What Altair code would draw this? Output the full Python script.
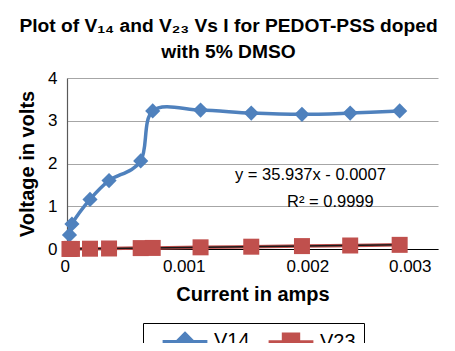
import altair as alt
import pandas as pd

current = [0.00002, 0.00004, 0.000186, 0.00034, 0.000596, 0.000693,
           0.00108, 0.00149, 0.0019, 0.00229, 0.00269]
v14 = [0.33, 0.585, 1.16, 1.60, 2.06, 3.23, 3.25, 3.18, 3.15, 3.18, 3.23]
v23 = [0.001, 0.002, 0.007, 0.012, 0.021, 0.025, 0.039, 0.054, 0.068, 0.082, 0.097]
series_names = ["V14", "V23"]
series_colors = ["#4F81BD", "#C0504D"]
x_ticks = [0, 0.001, 0.002, 0.003]
y_ticks = [0, 1, 2, 3, 4]
title_lines = ["Plot of V\u2081\u2084 and V\u2082\u2083 Vs I for PEDOT-PSS doped", "with 5% DMSO"]
eq_text = "y = 35.937x - 0.0007"
r2_text = "R\u00b2 = 0.9999"

rows = []
for i, c in enumerate(current):
    rows.append({"I": c, "V": v14[i], "series": "V14"})
    rows.append({"I": c, "V": v23[i], "series": "V23"})
df = pd.DataFrame(rows)
df23 = pd.DataFrame({"I": current, "V": v23})

FONT = "Liberation Sans"
legend_paths = ["M-3.2,0H3.2M0,-1.15L1.15,0L0,1.15L-1.15,0Z",
                "M-3.2,0H3.2M-1.1,-1.1H1.1V1.1H-1.1Z"]

xenc = alt.X("I:Q", scale=alt.Scale(domain=[0, 0.003], nice=False),
             axis=alt.Axis(values=x_ticks, title="Current in amps", grid=False,
                           labelExpr="datum.value == 0 ? '0' : format(datum.value, '.3f')",
                           domainColor="#000000", domainWidth=1.2, ticks=False,
                           labelOffset=-7, labelPadding=9, titlePadding=10))
yenc = alt.Y("V:Q", scale=alt.Scale(domain=[0, 4], nice=False),
             axis=alt.Axis(values=y_ticks, title="Voltage in volts", grid=True,
                           gridColor="#A6A6A6", gridWidth=1.2,
                           domainColor="#595959", domainWidth=1.2, ticks=False,
                           labelPadding=10, titlePadding=10))
cscale = alt.Scale(domain=series_names, range=series_colors)
leg = dict(title=None, orient="none", legendX=76, legendY=245, direction="horizontal")

lines = alt.Chart(df).mark_line(strokeWidth=3.5, interpolate="cardinal", tension=0.0).encode(
    x=xenc, y=yenc, color=alt.Color("series:N", scale=cscale, legend=None))
points = alt.Chart(df).mark_point(filled=True, opacity=1).encode(
    x="I:Q", y="V:Q",
    color=alt.Color("series:N", scale=cscale, legend=None),
    shape=alt.Shape("series:N", scale=alt.Scale(domain=series_names, range=["diamond", "square"]), legend=None),
    size=alt.Size("series:N", scale=alt.Scale(domain=series_names, range=[230, 256]), legend=None))
legend_layer = alt.Chart(df).transform_filter("false").mark_point(filled=True, opacity=1).encode(
    x="I:Q", y="V:Q",
    color=alt.Color("series:N", scale=cscale, legend=alt.Legend(
        **leg, strokeColor="#000000", padding=8,
        symbolSize=196, symbolStrokeWidth=3, symbolOpacity=1, symbolOffset=24,
        labelFontSize=20, labelFont=FONT, labelColor="#000000",
        labelOffset=19, columnPadding=7)),
    stroke=alt.Stroke("series:N", scale=cscale, legend=alt.Legend(**leg)),
    shape=alt.Shape("series:N", scale=alt.Scale(domain=series_names, range=legend_paths),
                    legend=alt.Legend(**leg)))
trend = alt.Chart(df23).transform_regression("I", "V").mark_line(color="#1a1a1a", strokeWidth=1.5).encode(x="I:Q", y="V:Q")
eq = alt.Chart(pd.DataFrame({"t": [eq_text]})).mark_text(
    font=FONT, fontSize=16.5, color="#000000", align="left", baseline="middle").encode(
    x=alt.value(168), y=alt.value(97), text="t:N")
r2 = alt.Chart(pd.DataFrame({"t": [r2_text]})).mark_text(
    font=FONT, fontSize=16.5, color="#000000", align="left", baseline="middle").encode(
    x=alt.value(220), y=alt.value(124), text="t:N")

chart = alt.layer(lines, trend, points, legend_layer, eq, r2).resolve_scale(
    color="independent", shape="independent", stroke="independent"
).properties(
    width=371, height=171,
    autosize=alt.AutoSizeParams(type="none"),
    padding={"left": 59, "top": 70, "right": 9, "bottom": 94},
    title=alt.TitleParams(title_lines, font=FONT, fontSize=19.2, fontWeight="bold",
                          color="#000000", anchor="middle", dx=-24, offset=7, lineHeight=26),
).configure_view(stroke=None).configure_axis(
    labelFont=FONT, labelFontSize=17, labelColor="#000000",
    titleFont=FONT, titleFontSize=20, titleFontWeight="bold", titleColor="#000000",
)

chart.save("out.html", embed_options={"renderer": "svg", "actions": False})
